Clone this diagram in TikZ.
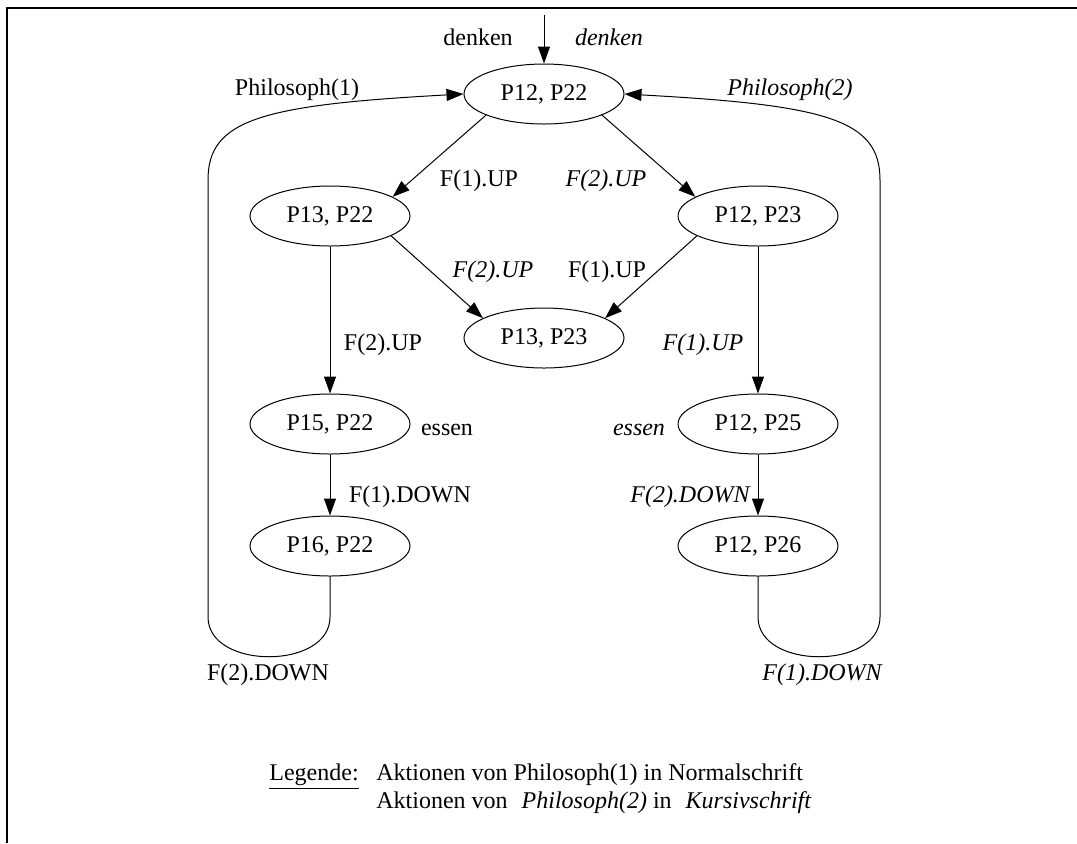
\documentclass[tikz,border=0pt]{standalone}
\usepackage{fontspec}
\setmainfont{Liberation Serif}
\usetikzlibrary{shapes.geometric,arrows.meta}

\begin{document}
\begin{tikzpicture}[x=0.5pt,y=-0.5pt,
  font=\fontsize{12pt}{14pt}\selectfont,
  zustand/.style={ellipse,draw,line width=0.5pt,minimum width=80pt,minimum height=30pt,inner sep=0pt},
  pfeil/.style={line width=0.5pt,-{Triangle[length=8.5pt,width=6pt]}},
  beschr/.style={inner sep=0pt,anchor=base},
  kursiv/.style={beschr,font=\fontsize{12pt}{14pt}\selectfont\itshape},
  legtext/.style={inner sep=0pt,anchor=base west}]

\useasboundingbox (0,0) rectangle (1077,843);

% Rahmen
\draw[line width=1.3pt] (7,843) -- (7,8) -- (1077,8);

% Zustaende
\node[zustand] (p1222) at (544,94) {P12, P22};
\node[zustand] (p1322) at (330,216) {P13, P22};
\node[zustand] (p1223) at (758,216) {P12, P23};
\node[zustand] (p1323) at (544,338) {P13, P23};
\node[zustand] (p1522) at (330,424) {P15, P22};
\node[zustand] (p1225) at (758,424) {P12, P25};
\node[zustand] (p1622) at (330,546) {P16, P22};
\node[zustand] (p1226) at (758,546) {P12, P26};

% Uebergaenge
\coordinate (start) at (544,15);
\draw[pfeil] (start) -- (p1222);
\draw[pfeil] (p1222.200) -- (p1322.17);
\draw[pfeil] (p1222.340) -- (p1223.163);
\draw[pfeil] (p1322.342) -- (p1323.162);
\draw[pfeil] (p1223.198) -- (p1323.18);
\draw[pfeil] (p1322) -- (p1522);
\draw[pfeil] (p1223) -- (p1225);
\draw[pfeil] (p1522) -- (p1622);
\draw[pfeil] (p1225) -- (p1226);

% Rueckwege
\draw[pfeil] (p1622.south) -- (330,617) .. controls (330,670) and (208,670) .. (208,617)
  -- (208,180) .. controls (208,120) and (260,105) .. (p1222.west);
\draw[pfeil] (p1226.south) -- (758,617) .. controls (758,670) and (880,670) .. (880,617)
  -- (880,180) .. controls (880,120) and (828,105) .. (p1222.east);

% Beschriftungen
\node[beschr] (denken1) at (478,45) {denken};
\node[kursiv] (denken2) at (609,45) {denken};
\node[beschr] (phil1) at (297,95) {Philosoph(1)};
\node[kursiv] (phil2) at (790,95) {Philosoph(2)};
\node[beschr] (f1up) at (479,186) {F(1).UP};
\node[kursiv] (f2up) at (606,186) {F(2).UP};
\node[kursiv] (f2upm) at (493,277) {F(2).UP};
\node[beschr] (f1upm) at (607,277) {F(1).UP};
\node[beschr] (f2upl) at (383,350) {F(2).UP};
\node[kursiv] (f1upr) at (703,350) {F(1).UP};
\node[beschr] (essen1) at (447,435) {essen};
\node[kursiv] (essen2) at (639,435) {essen};
\node[beschr] (f1down) at (410,502) {F(1).DOWN};
\node[kursiv] (f2down) at (690,502) {F(2).DOWN};
\node[beschr] (f2downl) at (268,680) {F(2).DOWN};
\node[kursiv] (f1downr) at (822,680) {F(1).DOWN};

% Legende
\node[legtext] (legende) at (269,780) {\underline{Legende:}};
\node[legtext] (zeile1) at (376,780) {Aktionen von Philosoph(1) in Normalschrift};
\node[legtext] (zeile2) at (376,808) {Aktionen von\hspace{7pt}\textit{Philosoph(2)} in\hspace{7pt}\textit{Kursivschrift}};

\end{tikzpicture}
\end{document}
